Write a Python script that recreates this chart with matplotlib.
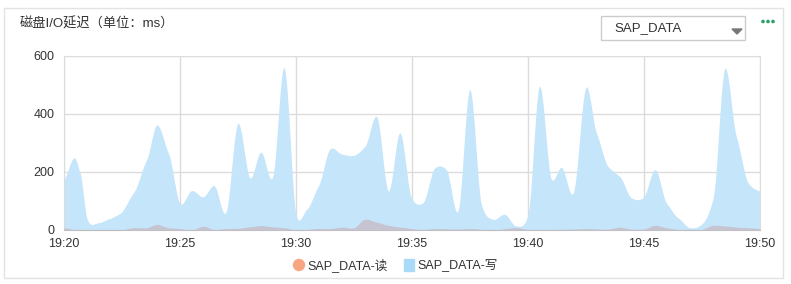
import matplotlib.pyplot as plt
import matplotlib.patches as patches
import numpy as np

plt.rcParams['font.family'] = ['Liberation Sans', 'Noto Sans CJK SC', 'DejaVu Sans']

# minutes after 19:20 and the values
write_t = [0, 0.47, 0.69, 1.0, 1.48, 1.98, 2.41, 2.99, 3.56, 3.99, 4.5, 5.0, 5.5, 6.0,
           6.47, 6.97, 7.49, 8.02, 8.48, 8.99, 9.48, 10.01, 10.46, 10.96, 11.47, 11.97,
           12.47, 12.97, 13.48, 13.98, 14.48, 14.97, 15.47, 15.98, 16.48, 16.98, 17.49,
           17.99, 18.49, 18.99, 19.49, 20.0, 20.49, 21.0, 21.44, 21.94, 22.51, 22.95,
           23.45, 23.95, 24.45, 24.96, 25.49, 25.96, 26.47, 26.97, 27.47, 27.98, 28.48,
           28.98, 29.49, 29.99]
write_v = [174, 248, 197, 37, 25, 40, 57, 128, 242, 362, 265, 91, 136, 114,
           153, 59, 368, 179, 269, 182, 562, 48, 71, 151, 280, 262,
           257, 288, 391, 134, 336, 111, 94, 214, 208, 65, 485,
           88, 37, 54, 14, 54, 496, 176, 216, 126, 494, 334,
           219, 185, 111, 111, 208, 94, 42, 8, 19, 111, 557,
           322, 162, 134]

read_t = [0, 0.55, 1.56, 2.41, 2.99, 3.56, 3.99, 4.5, 5.0, 5.5, 6.0, 6.47, 6.97, 7.49,
          8.02, 8.48, 8.99, 9.48, 10.01, 10.96, 11.47, 11.97, 12.47, 12.97, 13.48,
          13.98, 14.48, 15.47, 15.98, 16.98, 17.49, 18.49, 19.49, 20.0, 21.0, 21.94,
          22.51, 23.45, 23.95, 24.45, 24.96, 25.49, 25.96, 26.47, 26.97, 27.47, 27.98,
          28.48, 28.98, 29.49, 29.99]
read_v = [8, 0, 0, 0, 8, 8, 19, 8, 5, 0, 13, 2, 5, 6,
          11, 15, 11, 8, 0, 5, 5, 10, 7, 37, 27,
          16, 10, 2, 5, 3, 5, 0, 8, 2, 2, 3,
          5, 3, 10, 3, 3, 16, 8, 2, 0, 2, 16,
          14, 10, 8, 5]

xticks = [0, 5, 10, 15, 20, 25, 30]
xlabels = ['19:20', '19:25', '19:30', '19:35', '19:40', '19:45', '19:50']
yticks = [0, 200, 400, 600]


def smooth(t, v, n=12):
    # cubic hermite between points, like the chart's smoothed line
    t = np.asarray(t, float)
    v = np.asarray(v, float)
    m = np.gradient(v, t)
    xs, ys = [], []
    for i in range(len(t) - 1):
        h = t[i + 1] - t[i]
        s = np.linspace(0, 1, n, endpoint=False)
        h00 = 2 * s**3 - 3 * s**2 + 1
        h10 = s**3 - 2 * s**2 + s
        h01 = -2 * s**3 + 3 * s**2
        h11 = s**3 - s**2
        xs.append(t[i] + s * h)
        ys.append(h00 * v[i] + h10 * h * m[i] * 0.6 + h01 * v[i + 1] + h11 * h * m[i + 1] * 0.6)
    xs.append([t[-1]])
    ys.append([v[-1]])
    return np.concatenate(xs), np.clip(np.concatenate(ys), 0, None)


fig = plt.figure(figsize=(7.91, 2.84), dpi=100)
fig.patch.set_facecolor('white')

# card border
fig.add_artist(patches.Rectangle((4 / 791, 1 - 278 / 284), 779 / 791, 270 / 284,
                                 transform=fig.transFigure, fill=False,
                                 edgecolor='#e3e3e3', linewidth=1))

ax = fig.add_axes([64 / 791, 54 / 284, 696 / 791, 174 / 284])
wx, wy = smooth(write_t, write_v)
rx, ry = smooth(read_t, read_v)
ax.fill_between(wx, 0, wy, color='#c5e5fa', linewidth=0, zorder=2)
ax.fill_between(rx, 0, ry, color='#c6c4d0', linewidth=0, zorder=3)

ax.set_xlim(0, 30)
ax.set_ylim(0, 600)
ax.set_xticks(xticks)
ax.set_xticklabels(xlabels)
ax.set_yticks(yticks)
ax.grid(True, color='#dcdcdc', linewidth=1, zorder=1)
ax.set_axisbelow(True)
for side in ['top', 'right', 'left']:
    ax.spines[side].set_color('#dcdcdc')
ax.spines['bottom'].set_color('#bbbbbb')
ax.tick_params(length=0, labelsize=9, colors='#333333')
ax.tick_params(axis='y', pad=7)
ax.tick_params(axis='x', pad=6)

# title, dropdown, menu dots
fig.text(20 / 791, 1 - 24 / 284, '磁盘I/O延迟（单位：ms）', fontsize=9.5, color='#333333',
         va='center', ha='left')
fig.add_artist(patches.Rectangle((601 / 791, 1 - 40 / 284), 144 / 791, 24 / 284,
                                 transform=fig.transFigure, fill=False,
                                 edgecolor='#cccccc', linewidth=1))
fig.text(614 / 791, 1 - 28 / 284, 'SAP_DATA', fontsize=9.5, color='#333333',
         va='center', ha='left')
fig.add_artist(patches.Polygon([(732 / 791, 1 - 29 / 284), (742 / 791, 1 - 29 / 284),
                                (737 / 791, 1 - 34 / 284)], closed=True,
                               transform=fig.transFigure, color='#777777'))
for dx in [763, 768, 773]:
    fig.add_artist(patches.Ellipse((dx / 791, 1 - 21.5 / 284), 2.2 / 791, 2.2 / 284,
                                   transform=fig.transFigure, color='#2aa168'))

# legend
fig.add_artist(patches.Ellipse((299 / 791, 1 - 265 / 284), 11 / 791, 11 / 284,
                               transform=fig.transFigure, color='#f7a684'))
fig.text(307 / 791, 1 - 265 / 284, 'SAP_DATA-读', fontsize=9, color='#333333',
         va='center', ha='left')
fig.add_artist(patches.Rectangle((404 / 791, 1 - 271 / 284), 10 / 791, 12 / 284,
                                 transform=fig.transFigure, color='#a9daf8'))
fig.text(417 / 791, 1 - 265 / 284, 'SAP_DATA-写', fontsize=9, color='#333333',
         va='center', ha='left')

plt.savefig('out.png', dpi=100)
